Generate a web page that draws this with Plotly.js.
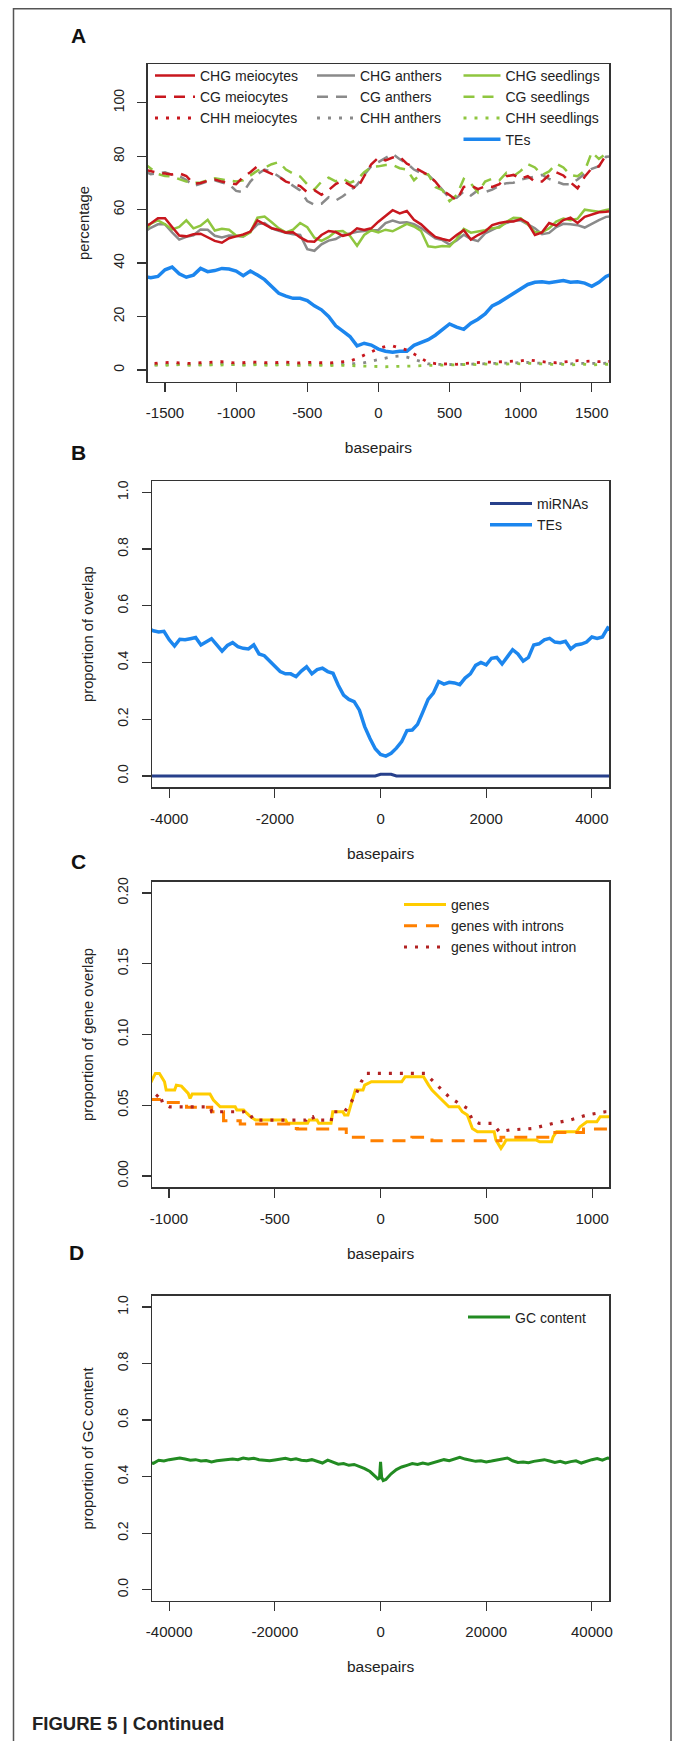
<!DOCTYPE html>
<html><head><meta charset="utf-8">
<script src="https://cdn.plot.ly/plotly-3.0.1.min.js"></script>
<style>html,body{margin:0;padding:0;background:#fff}</style>
</head><body><div id="chart" style="width:675px;height:1741px"></div>
<script>
// ---------- Panel A : methylation / TEs around miRNA loci ----------
const bpA = [-1650,-1600,-1550,-1500,-1450,-1400,-1350,-1300,-1250,-1200,-1150,-1100,-1050,-1000,-950,-900,-850,-800,-750,-700,-650,-600,-550,-500,-450,-400,-350,-300,-250,-200,-150,-100,-50,0,50,100,150,200,250,300,350,400,450,500,550,600,650,700,750,800,850,900,950,1000,1050,1100,1150,1200,1250,1300,1350,1400,1450,1500,1550,1600,1650];
const chgMeiocytes = [53.5,54.8,56.8,56.8,53.5,50.3,50,50.8,51,49.5,48.3,47.6,49.3,50,50.7,51.8,56,54.5,53,52.4,51.4,51.5,49.6,48.2,48,50.5,52,51.6,50.2,50.8,53,52.4,53,55.5,57.5,59.8,58.6,59.5,56.2,54.5,52,49.8,49,48.4,50.5,52.3,48.8,50.5,51.8,54.2,55,55.5,55.6,56.5,55,50.5,51.5,55,54,56.1,57,55,57.3,58.2,59,59.2,59.5];
const cgMeiocytes = [75,74.3,73.8,73.5,73.2,73.6,72.6,69.6,70,70.8,71.3,70.5,70,69.5,72.3,74,76.3,74.6,73.4,72.3,70.5,69.6,68.8,66.5,67.3,65.6,67.3,69.6,70.8,69.2,67.8,72.5,77,79.5,78.4,79.5,79.8,77.2,76,74.4,73,70.5,67.2,65.5,63.5,68.5,69,67.7,68.7,68.5,69.5,72.5,73,71.6,72.5,70.5,70.5,73,74,72.8,70.2,68,72.3,75.5,76.2,80.4,80.8];
const chhMeiocytes = [2.5,2.3,2.6,2.8,2.9,2.6,2.5,2.4,2.7,2.8,3.0,3.1,2.8,2.6,2.7,3.0,2.9,2.7,2.6,2.8,2.9,2.7,2.6,2.8,2.9,2.7,2.6,2.8,3.0,3.3,4.3,5.5,7,8,8.8,9,8.2,7.5,6,4.3,2.8,2.4,2.2,2.3,2.1,2.4,2.6,2.8,3,2.9,3,3.2,3.1,3.4,3.8,3.4,3,2.8,2.7,3,3.3,3.5,3.2,3.3,3.1,3.2,3.3];
const chgAnthers = [51.5,53.2,54.5,54.5,51.5,48.8,49.8,50.4,52.6,52.5,50.2,49.6,50.3,50.2,50,51.8,54.5,55,53,52.1,51.3,50.8,50.5,45.2,44.6,47,48.4,49,50.5,51.1,51.7,52,52.2,52.4,55,55.9,55.1,55.3,54.6,53.1,51.2,49.3,48.6,46.9,48.5,50.6,49,48.2,51.1,52.5,53.8,55,55.8,56,54.5,53,50.8,51.3,53.5,54.7,54.5,54.2,53.3,54.8,56.1,57.3,57.5];
const cgAnthers = [74.5,73.3,73.5,74,73,72.5,71.1,68.8,69.7,70.6,71,70.1,69.5,67,66.5,70.5,73.3,75,74.2,72.5,70.5,68.8,67.2,63.2,61.8,62.2,64.6,63.4,65,67,69.3,73,76.3,77.8,79.5,80.9,78.9,77.4,75,73.7,73,70.5,67.4,64.3,64.4,66.8,65.3,67.3,66.6,67.5,69,69.9,70.1,71.3,71.8,72.5,73,71.5,70.6,69.5,69.5,71.3,73.5,75.3,76.3,79.8,80];
const chhAnthers = [1.9,2.0,1.8,2.1,2.2,2.0,1.9,2.1,2.0,1.8,2.2,2.4,2.1,2.0,1.9,2.1,2.3,2.2,2.0,2.1,2.2,2.0,1.9,2.1,2.2,2.0,2.1,2.2,2.3,2.2,2.4,2.7,3.3,4,4.6,5,5.2,4.8,4,3,2.3,2.1,2.0,1.9,2.0,2.1,2.2,2.3,2.4,2.5,2.6,2.5,2.6,2.7,2.8,2.6,2.5,2.4,2.3,2.2,2.3,2.5,2.4,2.3,2.4,2.5,2.6];
const chgSeedlings = [51.5,54.8,56,54.5,52.6,53.5,56,53,54,56.2,52.2,52.8,52.5,50.3,50,51.5,57,57.4,55.3,53,51.5,52.5,55,53.4,49.5,48.3,49.7,51.8,52,50.2,46.5,50.5,52.3,51.5,52.5,51.9,53.3,54.7,53.7,52,46.3,45.9,46.4,46.2,49,52.8,51.4,51.8,52.3,53,53.3,55.4,57,56.8,54.5,51.5,51.5,53,55.5,56.7,56,56.6,60,59.6,59.2,59.9,60.3];
const cgSeedlings = [77.5,75.5,73.3,72.6,72.4,71.4,70.5,70,70.2,71,71.7,71.3,70.8,70.5,71,72.7,74.6,75.7,77,77.8,75,73.5,72.4,69.5,67.5,70.5,72,70.6,71.6,70,71.2,74,76,76.2,76.7,76.7,75.5,75,71,73.5,73.2,68.5,67.3,63.2,65.4,71.5,69.8,66.5,70.5,71.6,71,73.8,72.5,74.5,77,75.8,73,74.3,77.2,75.8,73,72.5,74.5,81.5,79,81,81.5];
const chhSeedlings = [1.7,1.8,1.9,1.7,1.8,2.0,1.8,1.7,1.9,2.0,1.8,1.9,2.1,2.0,1.8,1.9,2.0,1.8,1.7,1.9,2.0,1.8,1.7,1.9,1.8,1.7,1.6,1.8,1.7,1.5,1.5,1.4,1.3,1.2,1.2,1.3,1.3,1.4,1.5,1.6,1.7,1.8,1.7,1.8,1.9,2.0,2.1,2.0,2.2,2.1,2.3,2.2,2.4,2.3,2.5,2.4,2.2,2.1,2.0,2.1,1.9,2.0,2.1,1.9,2.0,2.1,2.2];
const tesA = [35,34.5,35,37.5,38.5,36,34.7,35.5,38,36.8,37.2,38,37.8,37,35.3,37,35.5,33.8,31.2,28.7,27.6,26.8,26.8,26,24,22.5,20,16.5,14.5,12.5,9,10,9.3,7.8,7,6.6,7,7,9.2,10.4,11.3,13,15,17.2,16,15.2,17.5,19,21,24,25.3,27,28.5,30.3,32,32.8,33,32.6,33.2,33.5,32.8,33,32.5,31.3,32.8,35,36];
const ticksA = [-1500,-1000,-500,0,500,1000,1500];
const tickTextA = ['-1500','-1000','-500','0','500','1000','1500'];
const yTicksA = [0,20,40,60,80,100];
const yTickTextA = ['0','20','40','60','80','100'];

// ---------- Panel B : overlap with miRNAs / TEs ----------
const bpB = [-4400,-4300,-4200,-4100,-4000,-3900,-3800,-3700,-3600,-3500,-3400,-3300,-3200,-3100,-3000,-2900,-2800,-2700,-2600,-2500,-2400,-2300,-2200,-2100,-2000,-1900,-1800,-1700,-1600,-1500,-1400,-1300,-1200,-1100,-1000,-900,-800,-700,-600,-500,-400,-300,-200,-100,0,100,200,300,400,500,600,700,800,900,1000,1100,1200,1300,1400,1500,1600,1700,1800,1900,2000,2100,2200,2300,2400,2500,2600,2700,2800,2900,3000,3100,3200,3300,3400,3500,3600,3700,3800,3900,4000,4100,4200,4300,4400];
const tesB = [0.52,0.512,0.508,0.51,0.48,0.458,0.482,0.48,0.484,0.488,0.462,0.474,0.484,0.462,0.44,0.46,0.47,0.456,0.45,0.448,0.462,0.43,0.424,0.405,0.385,0.368,0.36,0.36,0.35,0.37,0.385,0.36,0.375,0.38,0.368,0.362,0.32,0.285,0.27,0.262,0.232,0.174,0.132,0.096,0.076,0.07,0.08,0.098,0.121,0.16,0.162,0.182,0.225,0.27,0.292,0.333,0.324,0.33,0.328,0.322,0.345,0.36,0.39,0.4,0.392,0.415,0.418,0.395,0.42,0.445,0.43,0.405,0.418,0.462,0.466,0.48,0.485,0.472,0.47,0.475,0.448,0.462,0.465,0.472,0.49,0.485,0.49,0.522,0.51];
const mirnasB = [0,0,0,0,0,0,0,0,0,0,0,0,0,0,0,0,0,0,0,0,0,0,0,0,0,0,0,0,0,0,0,0,0,0,0,0,0,0,0,0,0,0,0,0,0.006,0.006,0.006,0,0,0,0,0,0,0,0,0,0,0,0,0,0,0,0,0,0,0,0,0,0,0,0,0,0,0,0,0,0,0,0,0,0,0,0,0,0,0,0,0,0];
const ticksB = [-4000,-2000,0,2000,4000];
const tickTextB = ['-4000','-2000','0','2000','4000'];
const yTicksProp = [0,0.2,0.4,0.6,0.8,1.0];
const yTickTextProp = ['0.0','0.2','0.4','0.6','0.8','1.0'];

// ---------- Panel C : gene overlap ----------
const genesX = [-1100,-1084,-1064,-1045,-1021,-1013,-973,-965,-941,-925,-909,-900,-890,-806,-790,-758,-687,-679,-647,-631,-615,-591,-448,-440,-345,-337,-300,-292,-234,-226,-178,-170,-154,-138,-119,-83,-75,-43,100,116,203,227,243,283,323,370,386,410,426,434,458,537,545,569,585,593,736,752,808,816,832,927,943,975,1022,1038,1100];
const genesY = [0.066,0.0666,0.0725,0.0725,0.0666,0.0607,0.0607,0.0642,0.0635,0.0607,0.0584,0.0548,0.0579,0.0579,0.0537,0.0489,0.0489,0.0466,0.0466,0.0442,0.0419,0.0395,0.0395,0.0372,0.0372,0.0395,0.0395,0.0372,0.0372,0.0454,0.0454,0.0431,0.0431,0.0513,0.0607,0.0607,0.0642,0.0666,0.0666,0.0701,0.0701,0.0642,0.0607,0.0548,0.0489,0.0489,0.0454,0.0431,0.0372,0.0336,0.0313,0.0313,0.0254,0.0195,0.0231,0.0254,0.0254,0.0242,0.0242,0.0278,0.0313,0.0313,0.0348,0.0383,0.0383,0.0419,0.0419];
const intronsX = [-1100,-1029,-917,-798,-742,-663,-417,-393,-162,-59,148,243,569,816,959,1100];
const intronsY = [0.0541,0.052,0.0485,0.0454,0.039,0.0367,0.0336,0.0332,0.0273,0.0249,0.0273,0.0249,0.0273,0.0308,0.0332,0.0332];
const noIntronX = [-1100,-1084,-1060,-1045,-1029,-997,-806,-798,-647,-639,-615,-599,-353,-345,-321,-313,-250,-234,-226,-170,-138,-114,-91,-67,211,251,291,323,370,410,434,466,529,561,609,720,816,895,975,1062,1100];
const noIntronY = [0.051,0.0525,0.056,0.0584,0.0513,0.0489,0.0489,0.0454,0.0454,0.0431,0.0431,0.0395,0.0395,0.0419,0.0419,0.0395,0.0395,0.0383,0.0454,0.0454,0.0525,0.0584,0.0666,0.0725,0.0725,0.0666,0.0607,0.056,0.0513,0.0478,0.0395,0.0372,0.0372,0.0313,0.0325,0.0336,0.0372,0.0395,0.0431,0.0454,0.0454];
const ticksC = [-1000,-500,0,500,1000];
const tickTextC = ['-1000','-500','0','500','1000'];
const yTicksC = [0,0.05,0.1,0.15,0.2];
const yTickTextC = ['0.00','0.05','0.10','0.15','0.20'];

// ---------- Panel D : GC content ----------
const bpD = [-44000,-43000,-42000,-41000,-40000,-39000,-38000,-37000,-36000,-35000,-34000,-33000,-32000,-31000,-30000,-29000,-28000,-27000,-26000,-25000,-24000,-23000,-22000,-21000,-20000,-19000,-18000,-17000,-16000,-15000,-14000,-13000,-12000,-11000,-10000,-9000,-8000,-7000,-6000,-5000,-4000,-3000,-2000,-1000,-500,-200,0,200,500,1000,2000,3000,4000,5000,6000,7000,8000,9000,10000,11000,12000,13000,14000,15000,16000,17000,18000,19000,20000,21000,22000,23000,24000,25000,26000,27000,28000,29000,30000,31000,32000,33000,34000,35000,36000,37000,38000,39000,40000,41000,42000,43000,44000];
const gcContent = [0.452,0.447,0.458,0.455,0.46,0.462,0.466,0.462,0.458,0.46,0.455,0.457,0.452,0.456,0.458,0.46,0.462,0.46,0.466,0.462,0.465,0.46,0.458,0.456,0.459,0.462,0.465,0.46,0.463,0.458,0.456,0.46,0.454,0.448,0.458,0.452,0.444,0.446,0.44,0.443,0.436,0.428,0.418,0.402,0.392,0.395,0.452,0.398,0.386,0.39,0.41,0.425,0.434,0.44,0.446,0.443,0.448,0.444,0.45,0.455,0.46,0.456,0.462,0.468,0.462,0.458,0.454,0.456,0.452,0.455,0.458,0.462,0.466,0.456,0.45,0.452,0.449,0.454,0.456,0.46,0.455,0.45,0.454,0.448,0.453,0.456,0.448,0.455,0.46,0.464,0.458,0.466,0.462];
const ticksD = [-40000,-20000,0,20000,40000];
const tickTextD = ['-40000','-20000','0','20000','40000'];

// ---------- colours ----------
const RED = '#c8171e', GRAY = '#8a8a8a', LGREEN = '#8fc63f', BLUE = '#1c86ee';
const NAVY = '#27408b', GOLD = '#ffcc00', ORANGE = '#ff8000', FIREBRICK = '#b22222', FOREST = '#228b22';
const DASH = '11px,8px', DOT = '3px,8px';

const FONT = 'Liberation Sans, Arial, Helvetica, sans-serif';
const W = 675, H = 1741;
const fx = v => v / W;
const fy = v => 1 - v / H;

function line(x, y, name, color, dash, width, xa, ya, legend, shape) {
  return {x, y, name, type: 'scatter', mode: 'lines', xaxis: xa, yaxis: ya, legend,
          line: {color, width, dash: dash || 'solid', shape: shape || 'linear'}, hoverinfo: 'skip'};
}

const traces = [
  Object.assign(line(bpA, tesA, 'TEs', BLUE, null, 3.5, 'x', 'y', 'legend3'), {legendrank: 2000}),
  line(bpA, chgAnthers, 'CHG anthers', GRAY, null, 2.5, 'x', 'y', 'legend2'),
  line(bpA, cgAnthers, 'CG anthers', GRAY, DASH, 2.5, 'x', 'y', 'legend2'),
  line(bpA, chhAnthers, 'CHH anthers', GRAY, DOT, 2.8, 'x', 'y', 'legend2'),
  line(bpA, chgSeedlings, 'CHG seedlings', LGREEN, null, 2.5, 'x', 'y', 'legend3'),
  line(bpA, cgSeedlings, 'CG seedlings', LGREEN, DASH, 2.5, 'x', 'y', 'legend3'),
  line(bpA, chhSeedlings, 'CHH seedlings', LGREEN, DOT, 2.8, 'x', 'y', 'legend3'),
  line(bpA, chgMeiocytes, 'CHG meiocytes', RED, null, 2.5, 'x', 'y', 'legend'),
  line(bpA, cgMeiocytes, 'CG meiocytes', RED, DASH, 2.5, 'x', 'y', 'legend'),
  line(bpA, chhMeiocytes, 'CHH meiocytes', RED, DOT, 2.8, 'x', 'y', 'legend'),

  line(bpB, mirnasB, 'miRNAs', NAVY, null, 3, 'x2', 'y2', 'legend4'),
  line(bpB, tesB, 'TEs', BLUE, null, 3.5, 'x2', 'y2', 'legend4'),

  line(genesX, genesY, 'genes', GOLD, null, 3, 'x3', 'y3', 'legend5'),
  line(intronsX, intronsY, 'genes with introns', ORANGE, '13px,9px', 3, 'x3', 'y3', 'legend5', 'hv'),
  line(noIntronX, noIntronY, 'genes without intron', FIREBRICK, '3px,8px', 3.2, 'x3', 'y3', 'legend5'),

  line(bpD, gcContent, 'GC content', FOREST, null, 3, 'x4', 'y4', 'legend6')
];

function xAxis(dom, range, anchor, vals, text) {
  return {domain: dom, range, anchor, tickmode: 'array', tickvals: vals, ticktext: text,
    showline: true, mirror: true, linecolor: '#333', linewidth: 1.3,
    ticks: 'outside', ticklen: 9, tickwidth: 1.2, tickcolor: '#333', ticklabelstandoff: 8,
    showgrid: false, zeroline: false, fixedrange: true,
    tickfont: {family: FONT, size: 15, color: '#222'},
    title: {text: 'basepairs', font: {family: FONT, size: 15.5, color: '#222'}, standoff: 22}};
}
function yAxis(dom, range, anchor, vals, text, title) {
  return {domain: dom, range, anchor, tickmode: 'array', tickvals: vals, ticktext: text,
    tickangle: -90, showline: true, mirror: true, linecolor: '#333', linewidth: 1.3,
    ticks: 'outside', ticklen: 9, tickwidth: 1.2, tickcolor: '#333', ticklabelstandoff: 8,
    showgrid: false, zeroline: false, fixedrange: true,
    tickfont: {family: FONT, size: 14, color: '#222'},
    title: {text: title, font: {family: FONT, size: 14.8, color: '#222'}, standoff: 17}};
}
function legendAt(xp, yp, iw) {
  return {x: fx(xp), y: fy(yp), xanchor: 'left', yanchor: 'top', bgcolor: 'rgba(0,0,0,0)',
    borderwidth: 0, font: {family: FONT, size: 14, color: '#222'}, itemwidth: iw,
    tracegroupgap: 0, traceorder: 'normal', itemclick: false, itemdoubleclick: false};
}

const xdomA = [fx(147.5), fx(609.3)];
const xdomB = [fx(151.8), fx(609.3)];

const layout = {
  width: W, height: H, margin: {l: 0, r: 0, t: 0, b: 0},
  paper_bgcolor: '#fff', plot_bgcolor: '#fff', hovermode: false,
  font: {family: FONT, color: '#222'},
  xaxis: xAxis(xdomA, [-1623, 1623], 'y', ticksA, tickTextA),
  yaxis: yAxis([fy(381.7), fy(64.3)], [-4.4, 114.4], 'x', yTicksA, yTickTextA, 'percentage'),
  xaxis2: xAxis(xdomB, [-4330, 4330], 'y2', ticksB, tickTextB),
  yaxis2: yAxis([fy(787.3), fy(481)], [-0.04, 1.04], 'x2', yTicksProp, yTickTextProp, 'proportion of overlap'),
  xaxis3: xAxis(xdomB, [-1081, 1081], 'y3', ticksC, tickTextC),
  yaxis3: yAxis([fy(1187.3), fy(881.7)], [-0.008, 0.208], 'x3', yTicksC, yTickTextC, 'proportion of gene overlap'),
  xaxis4: xAxis(xdomB, [-43300, 43300], 'y4', ticksD, tickTextD),
  yaxis4: yAxis([fy(1601), fy(1295.7)], [-0.04, 1.04], 'x4', yTicksProp, yTickTextProp, 'proportion of GC content'),
  legend: legendAt(150, 60, 40),
  legend2: legendAt(312, 60, 38),
  legend3: legendAt(458.5, 60, 37),
  legend4: legendAt(485, 488, 42),
  legend5: legendAt(399, 889, 42),
  legend6: legendAt(463, 1301.5, 42),
  shapes: [{type: 'rect', xref: 'paper', yref: 'paper', x0: fx(13.5), x1: fx(671), y0: -0.02, y1: fy(8.7),
            line: {color: '#555', width: 1.5}, fillcolor: 'rgba(0,0,0,0)', layer: 'below'}],
  annotations: [
    {text: '<b>A</b>', x: fx(78), y: fy(36), xref: 'paper', yref: 'paper', showarrow: false, xanchor: 'center', yanchor: 'middle', font: {family: FONT, size: 21, color: '#111'}},
    {text: '<b>B</b>', x: fx(78), y: fy(452.7), xref: 'paper', yref: 'paper', showarrow: false, xanchor: 'center', yanchor: 'middle', font: {family: FONT, size: 21, color: '#111'}},
    {text: '<b>C</b>', x: fx(78), y: fy(861.7), xref: 'paper', yref: 'paper', showarrow: false, xanchor: 'center', yanchor: 'middle', font: {family: FONT, size: 21, color: '#111'}},
    {text: '<b>D</b>', x: fx(76), y: fy(1252.7), xref: 'paper', yref: 'paper', showarrow: false, xanchor: 'center', yanchor: 'middle', font: {family: FONT, size: 21, color: '#111'}},
    {text: '<b>FIGURE 5 | Continued</b>', x: fx(30), y: fy(1723.3), xref: 'paper', yref: 'paper', showarrow: false, xanchor: 'left', yanchor: 'middle', font: {family: FONT, size: 18.5, color: '#222'}}
  ]
};

Plotly.newPlot('chart', traces, layout, {displayModeBar: false, staticPlot: true});
</script>
</body></html>
